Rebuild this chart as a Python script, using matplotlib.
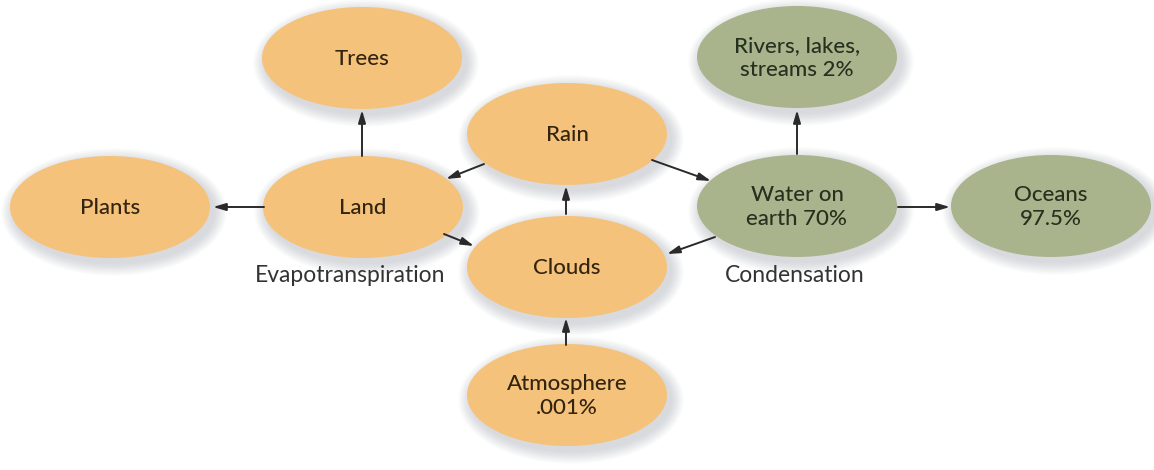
import matplotlib.pyplot as plt
from matplotlib.patches import Ellipse

# --- nodes of the water cycle diagram ---
labels = ["Trees", "Rivers, lakes,\nstreams 2%", "Rain", "Plants", "Land",
          "Water on\nearth 70%", "Oceans\n97.5%", "Clouds", "Atmosphere\n.001%"]
groups = ["orange", "green", "orange", "orange", "orange",
          "green", "green", "orange", "orange"]

# edges: (from, to)
edges = [("Land", "Trees"), ("Land", "Plants"), ("Rain", "Land"),
         ("Land", "Clouds"), ("Clouds", "Rain"), ("Rain", "Water on\nearth 70%"),
         ("Water on\nearth 70%", "Clouds"), ("Water on\nearth 70%", "Rivers, lakes,\nstreams 2%"),
         ("Water on\nearth 70%", "Oceans\n97.5%"), ("Atmosphere\n.001%", "Clouds")]

captions = ["Evapotranspiration", "Condensation"]

# --- layout (pixels, y down) ---
centers = {
    "Trees": (362, 58), "Rivers, lakes,\nstreams 2%": (797, 57), "Rain": (567, 134),
    "Plants": (110, 207), "Land": (363, 207), "Water on\nearth 70%": (797, 206),
    "Oceans\n97.5%": (1051, 206), "Clouds": (567, 267), "Atmosphere\n.001%": (567, 395),
}
caption_pos = [(350, 276), (795, 276)]
arrow_pts = {
    ("Land", "Trees"): ((362, 156), (362, 110)),
    ("Land", "Plants"): ((264, 207), (213, 207)),
    ("Rain", "Land"): ((484, 164), (446, 179)),
    ("Land", "Clouds"): ((444, 234), (474, 246)),
    ("Clouds", "Rain"): ((566, 214), (566, 186)),
    ("Rain", "Water on\nearth 70%"): ((652, 160), (711, 181)),
    ("Water on\nearth 70%", "Clouds"): ((715, 237), (667, 254)),
    ("Water on\nearth 70%", "Rivers, lakes,\nstreams 2%"): ((797, 154), (797, 110)),
    ("Water on\nearth 70%", "Oceans\n97.5%"): ((898, 207), (950, 207)),
    ("Atmosphere\n.001%", "Clouds"): ((566, 345), (566, 318)),
}

fill = {"orange": "#f5c27b", "green": "#a9b48d"}
ink = {"orange": "#33240f", "green": "#26301f"}
W, H = 200, 102

fig = plt.figure(figsize=(11.54, 4.70), dpi=100)
ax = fig.add_axes([0, 0, 1, 1])
ax.set_xlim(0, 1154)
ax.set_ylim(470, 0)
ax.axis("off")

for lab, grp in zip(labels, groups):
    cx, cy = centers[lab]
    # soft shadow
    for k in range(10):
        ax.add_patch(Ellipse((cx + 4, cy + 5), W + 2 + 2.6 * k, H + 2 + 2.6 * k,
                             facecolor="#8a8f9e", edgecolor="none", alpha=0.035, zorder=1))
    ax.add_patch(Ellipse((cx, cy), W, H, facecolor=fill[grp], edgecolor="none", zorder=2))
    ax.text(cx, cy + 1, lab, ha="center", va="center", fontsize=16, family="Lato",
            weight="medium", color=ink[grp], linespacing=1.3, zorder=3)

for e in edges:
    (x0, y0), (x1, y1) = arrow_pts[e]
    ax.annotate("", xy=(x1, y1), xytext=(x0, y0), zorder=4,
                arrowprops=dict(arrowstyle="-|>,head_length=0.75,head_width=0.22",
                                color="#2a2a2a", lw=1.4, shrinkA=0, shrinkB=0))

for txt, (x, y) in zip(captions, caption_pos):
    ax.text(x, y, txt, ha="center", va="center", fontsize=16.5, family="Lato",
            color="#333333", zorder=3)

fig.savefig("out.png", dpi=100)
